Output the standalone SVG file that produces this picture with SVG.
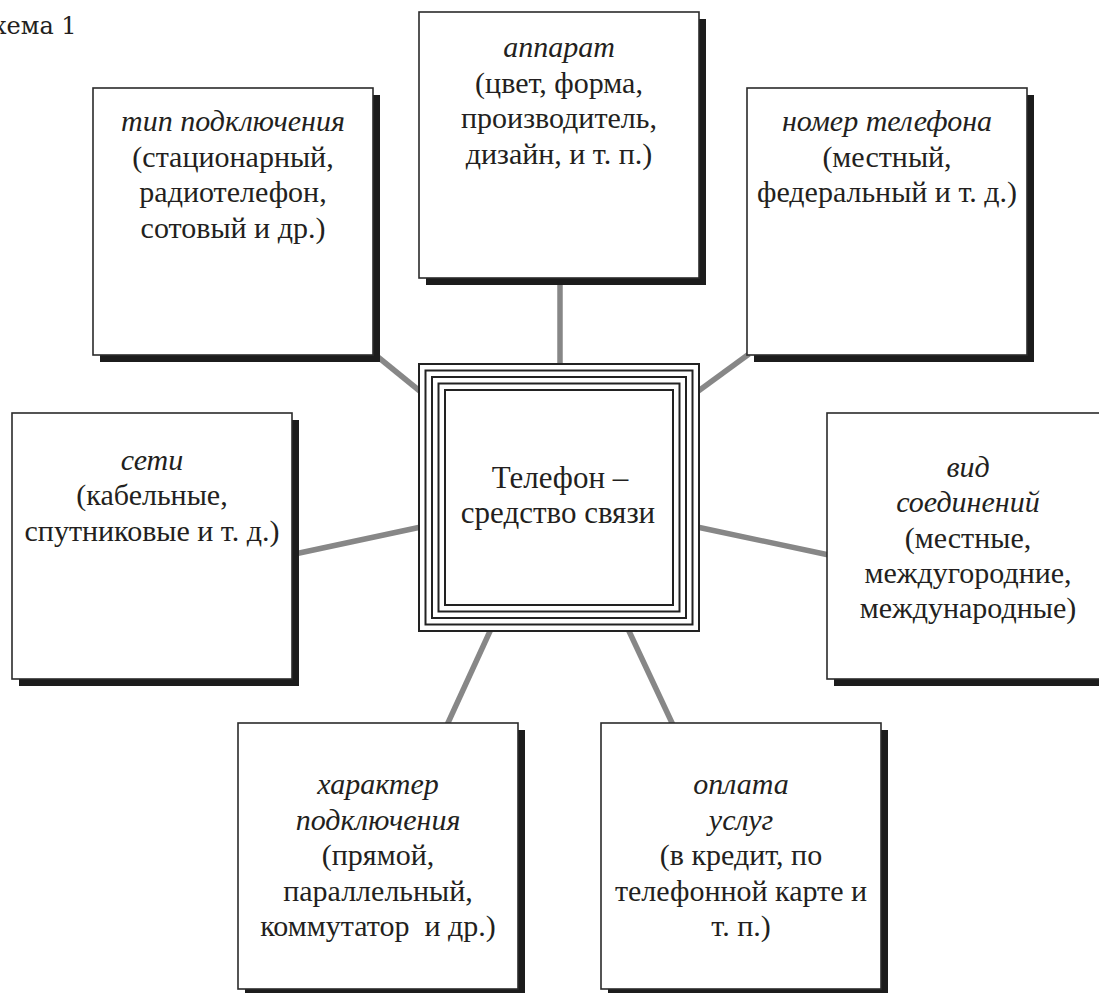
<svg xmlns="http://www.w3.org/2000/svg" width="1099" height="993" viewBox="0 0 1099 993">
<style>
.sh{fill:#1c1c1c}
.box{fill:#fff;stroke:#2b2b2b;stroke-width:1.6}
.ring{fill:none;stroke:#222;stroke-width:2}
.con{stroke:#878787;stroke-width:5.5;fill:none}
.t{font-family:"Liberation Serif","Times New Roman",serif;font-size:30px;fill:#231f20;text-anchor:middle;white-space:pre}
.c{font-size:31px}
.i{font-style:italic}
.cap{font-family:"DejaVu Serif",serif;font-size:24px;fill:#231f20}
</style>
<rect width="1099" height="993" fill="#fff"/>
<text class="cap" x="-7" y="34">хема 1</text>
<g id="connectors">
<line class="con" x1="560" y1="280" x2="560" y2="366"/>
<line class="con" x1="373" y1="353" x2="421" y2="392"/>
<line class="con" x1="697" y1="392" x2="749" y2="354"/>
<line class="con" x1="290" y1="555" x2="421" y2="527"/>
<line class="con" x1="697" y1="527" x2="829" y2="555"/>
<line class="con" x1="491" y1="629" x2="447" y2="725"/>
<line class="con" x1="628" y1="629" x2="673" y2="725"/>
</g>
<g id="center">
<rect x="419" y="364" width="280" height="267" fill="#fff"/>
<rect class="ring" x="419" y="364" width="280" height="267"/>
<rect class="ring" x="425.5" y="370.5" width="267" height="254"/>
<rect class="ring" x="432" y="377" width="254" height="241"/>
<rect class="ring" x="438.5" y="383.5" width="241" height="228"/>
<rect class="ring" x="445" y="390" width="228" height="215"/>
<text class="t c" x="560" y="488">Телефон –</text>
<text class="t c" x="558" y="523">средство связи</text>
</g>
<g id="tip">
<rect class="sh" x="100" y="95" width="280" height="267"/>
<rect class="box" x="93" y="88" width="280" height="267"/>
<text class="t i" x="233" y="131">тип подключения</text>
<text class="t" x="233" y="167">(стационарный,</text>
<text class="t" x="233" y="202">радиотелефон,</text>
<text class="t" x="233" y="238">сотовый и др.)</text>
</g>
<g id="apparat">
<rect class="sh" x="426" y="19" width="280" height="266"/>
<rect class="box" x="419" y="12" width="280" height="266"/>
<text class="t i" x="559" y="57">аппарат</text>
<text class="t" x="559" y="93">(цвет, форма,</text>
<text class="t" x="559" y="128">производитель,</text>
<text class="t" x="559" y="164">дизайн, и т. п.)</text>
</g>
<g id="nomer">
<rect class="sh" x="754" y="95" width="280" height="267"/>
<rect class="box" x="747" y="88" width="280" height="267"/>
<text class="t i" x="887" y="131">номер телефона</text>
<text class="t" x="887" y="167">(местный,</text>
<text class="t" x="887" y="202">федеральный и т. д.)</text>
</g>
<g id="seti">
<rect class="sh" x="19" y="420" width="280" height="266"/>
<rect class="box" x="12" y="413" width="280" height="266"/>
<text class="t i" x="152" y="470">сети</text>
<text class="t" x="152" y="505">(кабельные,</text>
<text class="t" x="152" y="541">спутниковые и т. д.)</text>
</g>
<g id="vid">
<rect class="sh" x="834" y="420" width="280" height="266"/>
<rect class="box" x="827" y="413" width="280" height="266"/>
<text class="t i" x="968" y="477">вид</text>
<text class="t i" x="968" y="512">соединений</text>
<text class="t" x="968" y="548">(местные,</text>
<text class="t" x="968" y="583">междугородние,</text>
<text class="t" x="968" y="618">международные)</text>
</g>
<g id="harakter">
<rect class="sh" x="245" y="730" width="280" height="266"/>
<rect class="box" x="238" y="723" width="280" height="266"/>
<text class="t i" x="378" y="794">характер</text>
<text class="t i" x="378" y="830">подключения</text>
<text class="t" x="378" y="865">(прямой,</text>
<text class="t" x="378" y="901">параллельный,</text>
<text class="t" x="378" y="936">коммутатор  и др.)</text>
</g>
<g id="oplata">
<rect class="sh" x="608" y="730" width="280" height="266"/>
<rect class="box" x="601" y="723" width="280" height="266"/>
<text class="t i" x="741" y="794">оплата</text>
<text class="t i" x="741" y="830">услуг</text>
<text class="t" x="741" y="865">(в кредит, по</text>
<text class="t" x="741" y="901">телефонной карте и</text>
<text class="t" x="741" y="936">т. п.)</text>
</g>
</svg>
